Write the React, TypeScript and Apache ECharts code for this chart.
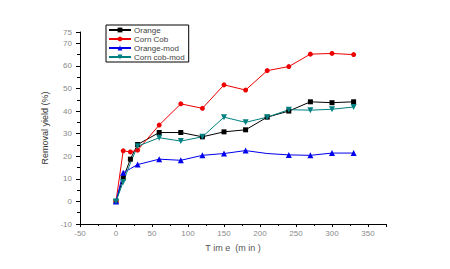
import React, { useEffect, useRef } from "react";
import * as echarts from "echarts";

const times = [0, 10, 20, 30, 60, 90, 120, 150, 180, 210, 240, 270, 300, 330];
const orange = [0, 10.4, 18.7, 25.2, 30.5, 30.5, 28.6, 30.8, 31.7, 37.3, 40, 44.1, 43.7, 44.1];
const cornCob = [0, 22.4, 21.9, 22.7, 33.8, 43.2, 41.2, 51.6, 49.3, 57.9, 59.7, 65.2, 65.5, 65];
const orangeMod = [0, 12.7, 14.5, 16.3, 18.7, 18.2, 20.4, 21.2, 22.5, 21.2, 20.6, 20.4, 21.4, 21.4];
const cornCobMod = [0, 8.6, 17, 24.4, 28.2, 26.7, 28.6, 37.3, 35, 37.3, 40.6, 40.4, 40.8, 41.8];
const hiddenMarkerTimes = [20, 210];
const seriesNames = ["Orange", "Corn Cob", "Orange-mod", "Corn cob-mod"];
const xTitle = "T im e  (m in )";
const yTitle = "Removal yield (%)";

export default function App() {
  const ref = useRef<HTMLDivElement>(null);
  useEffect(() => {
    document.body.style.margin = "0";
    if (!ref.current) return;
    const chart = echarts.init(ref.current, undefined, { renderer: "svg" });
    const mk = (vals: number[], hideFor: number[]) =>
      times.map((t, i) =>
        hideFor.includes(t) ? { value: [t, vals[i]], symbol: "none" } : { value: [t, vals[i]] }
      );
    const font = "Liberation Sans";
    const axisLabel = { color: "#8a8a8a", fontSize: 8, fontFamily: font, showMinLabel: true };
    chart.setOption({
      animation: false,
      textStyle: { fontFamily: font },
      grid: { left: 80, right: 64, top: 32, bottom: 45 },
      legend: {
        orient: "vertical",
        left: 106,
        top: 25,
        borderColor: "#000",
        borderWidth: 1,
        padding: [1, 4, 1, 2],
        itemGap: 1,
        itemWidth: 22,
        itemHeight: 6,
        textStyle: { color: "#444", fontSize: 8, fontFamily: font, padding: [0, 0, 0, -2] },
        data: seriesNames,
      },
      xAxis: {
        type: "value",
        min: -50,
        max: 375,
        interval: 50,
        name: xTitle,
        nameLocation: "middle",
        nameGap: 19,
        nameTextStyle: { color: "#555", fontSize: 9, fontFamily: font },
        axisLine: { onZero: false, lineStyle: { color: "#000", width: 1 } },
        axisTick: { length: 3, lineStyle: { color: "#000" } },
        minorTick: { show: true, splitNumber: 2, length: 2, lineStyle: { color: "#000" } },
        splitLine: { show: false },
        axisLabel: { ...axisLabel, margin: 5, formatter: (v: number) => (v > 350 ? "" : String(v)) },
      },
      yAxis: {
        type: "value",
        min: -10,
        max: 75,
        interval: 10,
        name: yTitle,
        nameLocation: "middle",
        nameGap: 29,
        nameTextStyle: { color: "#333", fontSize: 9, fontFamily: font },
        axisLine: { show: true, onZero: false, lineStyle: { color: "#000", width: 1 } },
        axisTick: { show: true, length: 4, lineStyle: { color: "#000" } },
        minorTick: { show: true, splitNumber: 2, length: 3, lineStyle: { color: "#000" } },
        splitLine: { show: false },
        axisLabel: { ...axisLabel, margin: 8 },
      },
      series: [
        {
          name: seriesNames[0],
          type: "line",
          data: mk(orange, []),
          symbol: "rect",
          symbolSize: 5,
          itemStyle: { color: "#000" },
          lineStyle: { color: "#000", width: 1 },
        },
        {
          name: seriesNames[1],
          type: "line",
          data: mk(cornCob, []),
          symbol: "circle",
          symbolSize: 5,
          itemStyle: { color: "#ee0000" },
          lineStyle: { color: "#ee0000", width: 1 },
        },
        {
          name: seriesNames[2],
          type: "line",
          data: mk(orangeMod, hiddenMarkerTimes),
          symbol: "triangle",
          symbolSize: 6,
          itemStyle: { color: "#0000ee" },
          lineStyle: { color: "#0000ee", width: 1 },
        },
        {
          name: seriesNames[3],
          type: "line",
          data: mk(cornCobMod, [20]),
          symbol: "triangle",
          symbolRotate: 180,
          symbolSize: 6,
          itemStyle: { color: "#008080" },
          lineStyle: { color: "#008080", width: 1 },
        },
      ],
    });
    return () => chart.dispose();
  }, []);
  return <div ref={ref} style={{ width: 450, height: 269 }} />;
}
